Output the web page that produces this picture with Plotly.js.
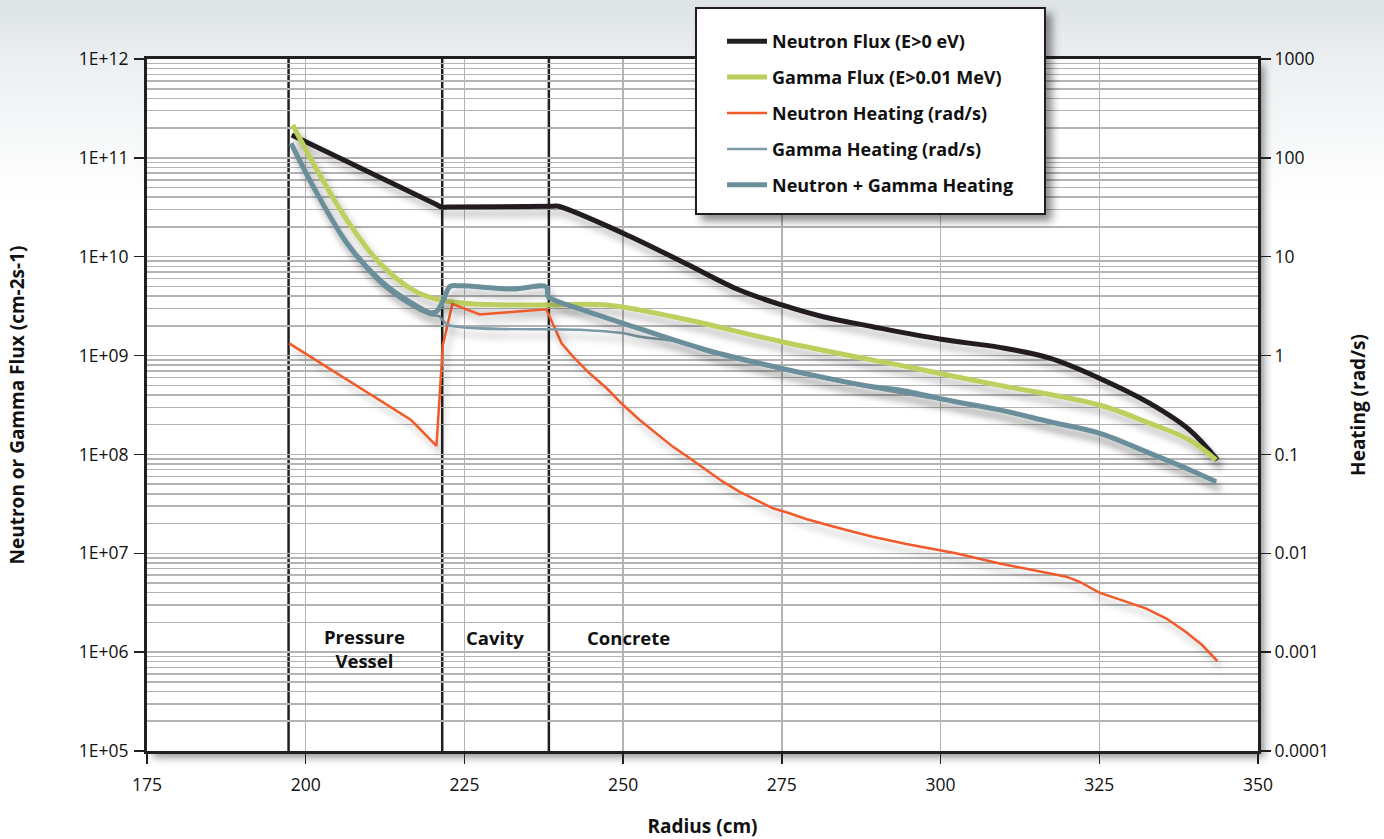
<!DOCTYPE html>
<html>
<head>
<meta charset="utf-8">
<script src="https://cdn.plot.ly/plotly-3.0.1.min.js"></script>
<style>
  html, body { margin: 0; padding: 0; }
  body {
    width: 1384px; height: 839px; overflow: hidden;
    background: linear-gradient(180deg, #dde3e6 0px, #eceff1 60px, #ffffff 200px);
  }
  #chart { width: 1384px; height: 839px; }
  .scatterlayer .trace path.js-line { filter: url(#lineShadow); }
  .layer-above .shapelayer path { filter: url(#boxShadow); }
  .bglayer rect.bg { filter: url(#boxShadow); }
</style>
</head>
<body>
<svg width="0" height="0" style="position:absolute">
  <defs>
    <filter id="lineShadow" x="-20%" y="-20%" width="140%" height="160%">
      <feDropShadow dx="4" dy="7" stdDeviation="3.5" flood-color="#000" flood-opacity="0.28"/>
    </filter>
    <filter id="boxShadow" x="-10%" y="-10%" width="130%" height="130%">
      <feDropShadow dx="6" dy="6" stdDeviation="4" flood-color="#000" flood-opacity="0.45"/>
    </filter>
  </defs>
</svg>
<div id="chart"></div>
<script>
// ---------- Data ----------
const neutronFluxR   = [197.8, 220.5, 221.4, 222.3, 239.0, 239.8, 250, 260, 268.3, 275, 281.5, 289.3, 300.1, 309.3, 317.2, 325, 332.9, 339.2, 343.6];
const neutronFluxVal = [1.70e11, 3.40e10, 3.18e10, 3.18e10, 3.24e10, 3.24e10, 1.73e10, 8.45e9, 4.6e9, 3.25e9, 2.47e9, 1.96e9, 1.46e9, 1.21e9, 9.4e8, 5.9e8, 3.3e8, 1.77e8, 8.8e7];

const gammaFluxR   = [197.96, 201.2, 206.5, 211.7, 216.9, 221.1, 227.4, 237.9, 247.4, 257.9, 275, 289.3, 293.5, 302.4, 309.3, 325, 332.9, 339.2, 343.4];
const gammaFluxVal = [2.15e11, 8.8e10, 2.35e10, 8.6e9, 4.6e9, 3.65e9, 3.3e9, 3.25e9, 3.25e9, 2.47e9, 1.38e9, 9.0e8, 8.0e8, 6.1e8, 5.0e8, 3.16e8, 2.07e8, 1.40e8, 8.8e7];

const neutronHeatR   = [197.4, 216.6, 220.6, 221.6, 223.1, 227.4, 237.9, 240.3, 242.1, 244.7, 247.4, 250, 252.6, 255.2, 257.8, 260.5, 263.1, 265.7, 268.3, 271.0, 273.6, 276.2, 278.8, 284.1, 289.3, 294.6, 302.4, 309.3, 319.8, 321.9, 325.0, 329.2, 332.3, 335.5, 338.6, 341.2, 343.6];
const neutronHeatVal = [1.33, 0.223, 0.122, 1.28, 3.33, 2.61, 2.94, 1.33, 0.975, 0.662, 0.467, 0.316, 0.223, 0.164, 0.120, 0.0914, 0.0695, 0.0530, 0.0420, 0.0346, 0.0285, 0.0254, 0.0222, 0.0179, 0.0147, 0.0124, 0.0100, 0.0079, 0.0058, 0.00515, 0.0040, 0.00324, 0.00277, 0.00220, 0.00161, 0.00118, 0.00081];

const gammaHeatR   = [197.7, 201.2, 206.5, 211.7, 215.9, 219.6, 221.0, 222.4, 243.2, 250, 252.7, 259, 263.1, 275, 289.3, 302.4, 309.3, 317.2, 325, 332.9, 339.2, 343.4];
const gammaHeatVal = [139, 50, 13.1, 5.4, 3.4, 2.57, 2.5, 2.04, 1.82, 1.68, 1.55, 1.36, 1.10, 0.72, 0.47, 0.335, 0.277, 0.21, 0.161, 0.101, 0.069, 0.052];

const totalHeatR   = [197.7, 201.2, 206.5, 211.7, 215.9, 219.6, 220.6, 221.7, 222.7, 224.3, 232.7, 237.9, 238.2, 242.1, 250, 263.1, 275, 289.3, 293.5, 302.4, 309.3, 317.2, 325, 332.9, 339.2, 343.4];
const totalHeatVal = [140, 51, 13.7, 5.8, 3.65, 2.72, 2.78, 3.65, 4.98, 5.09, 4.71, 4.98, 3.94, 3.12, 2.12, 1.14, 0.743, 0.484, 0.449, 0.341, 0.282, 0.214, 0.164, 0.103, 0.070, 0.053];

const seriesNames = ['Neutron Flux (E>0 eV)', 'Gamma Flux (E>0.01 MeV)', 'Neutron Heating (rad/s)', 'Gamma Heating (rad/s)', 'Neutron + Gamma Heating'];

const regionBounds = [197.3, 221.5, 238.3];
const regionLabels = ['Pressure<br>Vessel', 'Cavity', 'Concrete'];

const xTickVals = [175, 200, 225, 250, 275, 300, 325, 350];
const fluxTickVals = [1e5, 1e6, 1e7, 1e8, 1e9, 1e10, 1e11, 1e12];
const fluxTickText = ['1E+05', '1E+06', '1E+07', '1E+08', '1E+09', '1E+10', '1E+11', '1E+12'];
const heatTickVals = [1e-4, 1e-3, 1e-2, 1e-1, 1, 10, 100, 1000];
const heatTickText = ['0.0001', '0.001', '0.01', '0.1', '1', '10', '100', '1000'];

// ---------- Styles ----------
const C_BLACK = '#231f20', C_GREEN = '#bccf5e', C_ORANGE = '#f15a29', C_SLATE = '#6a8f9b', C_SLATE_THIN = '#7c9ba6';
const FONT = 'Open Sans, Noto Sans, sans-serif';

// minor grid lines at 2..9 of each decade
const minorVals = [];
for (let e = 5; e < 12; e++) for (let k = 2; k <= 9; k++) minorVals.push(k * Math.pow(10, e));

const traces = [
  {x: neutronFluxR, y: neutronFluxVal, name: seriesNames[0], yaxis: 'y', line: {color: C_BLACK, width: 5, shape: 'spline', smoothing: 1}, legendgroup: 'a'},
  {x: gammaFluxR, y: gammaFluxVal, name: seriesNames[1], yaxis: 'y', line: {color: C_GREEN, width: 5, shape: 'spline', smoothing: 1}, legendgroup: 'b'},
  {x: neutronHeatR, y: neutronHeatVal, name: seriesNames[2], yaxis: 'y2', line: {color: C_ORANGE, width: 2.5}, legendgroup: 'c'},
  {x: gammaHeatR, y: gammaHeatVal, name: seriesNames[3], yaxis: 'y2', line: {color: C_SLATE_THIN, width: 2.5, shape: 'spline', smoothing: 0.8}, legendgroup: 'd'},
  {x: totalHeatR, y: totalHeatVal, name: seriesNames[4], yaxis: 'y2', line: {color: C_SLATE, width: 5, shape: 'spline', smoothing: 0.9}, legendgroup: 'e'}
].map(t => Object.assign({type: 'scatter', mode: 'lines', hoverinfo: 'skip'}, t));

const L = 147, T = 59, W = 1111, H = 692;
const px2paperX = p => (p - L) / W;
const px2paperY = p => (T + H - p) / H;

const shapes = regionBounds.map(r => ({
  type: 'line', xref: 'x', yref: 'paper', x0: r, x1: r, y0: 0, y1: 1,
  line: {color: C_BLACK, width: 2.5}, layer: 'between'
}));
// legend box
shapes.push({type: 'rect', xref: 'paper', yref: 'paper',
  x0: px2paperX(696), x1: px2paperX(1045), y0: px2paperY(214), y1: px2paperY(8),
  fillcolor: '#ffffff', line: {color: '#231f20', width: 2}, layer: 'above'});

const annotations = [
  {x: 209.3, y: Math.log10(1.1e6), text: regionLabels[0]},
  {x: 229.8, y: Math.log10(1.4e6), text: regionLabels[1]},
  {x: 250.9, y: Math.log10(1.4e6), text: regionLabels[2]}
].map(a => Object.assign({xref: 'x', yref: 'y', showarrow: false,
  font: {family: FONT, size: 18.5, color: '#111', weight: 'bold'}}, a));

const axisCommon = {
  ticks: 'outside', ticklen: 10, tickwidth: 1.5, tickcolor: '#231f20',
  showline: true, linecolor: '#231f20', linewidth: 3,
  tickfont: {family: FONT, size: 17.5, color: '#111'},
  zeroline: false
};
const titleFont = {family: FONT, size: 19, color: '#111', weight: 'bold'};

const layout = {
  width: 1384, height: 839,
  paper_bgcolor: 'rgba(0,0,0,0)', plot_bgcolor: '#ffffff',
  margin: {l: L, r: 1384 - L - W, t: T, b: 839 - T - H},
  showlegend: true,
  legend: {x: px2paperX(722), y: px2paperY(23), xanchor: 'left', yanchor: 'top',
    bgcolor: 'rgba(0,0,0,0)', borderwidth: 0, tracegroupgap: 9.5, itemwidth: 40,
    font: {family: FONT, size: 18, color: '#111', weight: 'bold'}},
  xaxis: Object.assign({}, axisCommon, {
    range: [175, 350], tickvals: xTickVals, showgrid: true, gridcolor: '#b3b3b3', gridwidth: 1.5,
    mirror: true, ticklabelstandoff: 6,
    title: {text: 'Radius (cm)', standoff: 29, font: titleFont}
  }),
  yaxis: Object.assign({}, axisCommon, {
    type: 'log', range: [5, 12], tickvals: fluxTickVals, ticktext: fluxTickText,
    showgrid: true, gridcolor: '#b3b3b3', gridwidth: 1.5, ticklabelstandoff: 2,
    minor: {tickvals: minorVals, showgrid: true, gridcolor: '#b3b3b3', gridwidth: 1.5, ticks: ''},
    title: {text: 'Neutron or Gamma Flux (cm-2s-1)', standoff: 50, font: titleFont}
  }),
  yaxis2: Object.assign({}, axisCommon, {
    type: 'log', range: [-4, 3], tickvals: heatTickVals, ticktext: heatTickText,
    overlaying: 'y', side: 'right', showgrid: false,
    title: {text: 'Heating (rad/s)', standoff: 24, font: titleFont}
  }),
  shapes: shapes,
  annotations: annotations
};

Plotly.newPlot('chart', traces, layout, {displayModeBar: false, staticPlot: true});
</script>
</body>
</html>
